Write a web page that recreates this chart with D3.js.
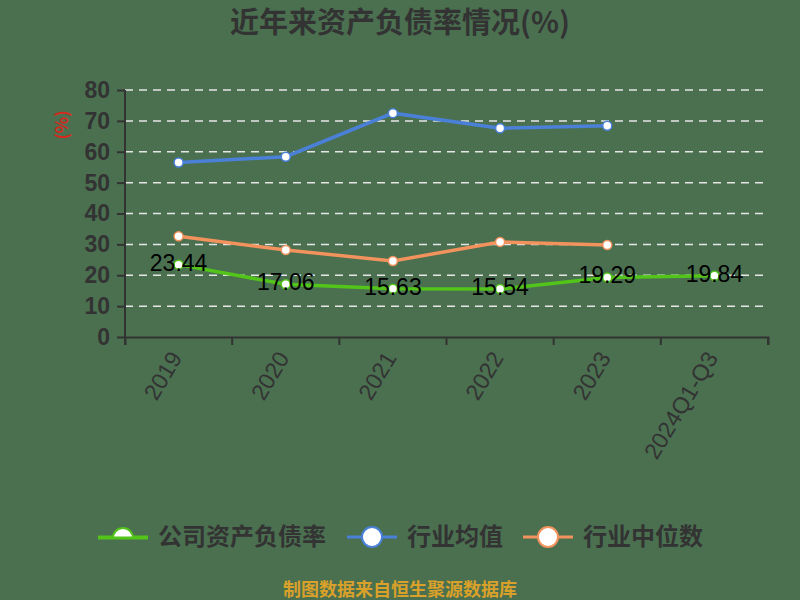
<!DOCTYPE html>
<html>
<head>
<meta charset="utf-8">
<script src="https://cdn.jsdelivr.net/npm/d3@7"></script>
<style>
  body { margin: 0; background: #4a7050; }
  text { font-family: "Noto Sans CJK SC", "Noto Sans", sans-serif; }
</style>
</head>
<body>
<script>
// chart data
const years = ["2019", "2020", "2021", "2022", "2023", "2024Q1-Q3"];
const companyRate = [23.44, 17.06, 15.63, 15.54, 19.29, 19.84];
const industryAvg = [56.5, 58.4, 72.5, 67.6, 68.4];
const industryMedian = [32.6, 28.2, 24.6, 30.8, 29.8];
const yTicks = [0, 10, 20, 30, 40, 50, 60, 70, 80];
const seriesNames = ["公司资产负债率", "行业均值", "行业中位数"];

const width = 800, height = 600;
const margin = ({top: 90, right: 32, bottom: 263, left: 125});

const svg = d3.select("body").append("svg")
  .attr("width", width)
  .attr("height", height);

svg.append("rect").attr("width", width).attr("height", height).attr("fill", "#4a7050");

// title
svg.append("text")
  .attr("x", 400).attr("y", 33)
  .attr("text-anchor", "middle")
  .attr("font-size", 29).attr("font-weight", "bold")
  .attr("fill", "#333")
  .text("近年来资产负债率情况(%)");

var x = d3.scaleBand()
  .domain(years)
  .range([margin.left, width - margin.right]);

var y = d3.scaleLinear()
  .domain([0, 80])
  .range([height - margin.bottom, margin.top]);

// grid
svg.append("g")
  .selectAll("line")
  .data(yTicks.slice(1))
  .join("line")
  .attr("x1", margin.left)
  .attr("x2", width - margin.right)
  .attr("y1", d => y(d))
  .attr("y2", d => y(d))
  .attr("stroke", "#e6e6e6")
  .attr("stroke-width", 1.5)
  .attr("stroke-dasharray", "8,6");

// y axis
const yAxis = svg.append("g")
  .attr("transform", "translate(" + margin.left + ",0)")
  .call(d3.axisLeft(y).tickValues(yTicks).tickSize(8).tickPadding(7));
yAxis.selectAll("line, path").attr("stroke", "#333").attr("stroke-width", 2);
yAxis.selectAll("text")
  .attr("font-size", 23).attr("fill", "#333")
  .attr("font-weight", "bold")
  .style("font-family", "'Liberation Sans', Arial, sans-serif");
yAxis.select(".domain").attr("d", "M0," + y(0) + "V" + y(80));

svg.append("text")
  .attr("transform", "translate(68,125) rotate(-90)")
  .attr("text-anchor", "middle")
  .attr("font-size", 17)
  .attr("font-weight", "bold")
  .attr("fill", "#d42a1e")
  .text("(%)");

// x axis
const xAxis = svg.append("g")
  .attr("transform", "translate(0," + y(0) + ")")
  .call(d3.axisBottom(x).tickSize(8).tickSizeOuter(8));
xAxis.selectAll("line, path").attr("stroke", "#333").attr("stroke-width", 2);
// move ticks to band edges
xAxis.selectAll(".tick line").attr("transform", "translate(" + (-x.bandwidth() / 2) + ",0)");
xAxis.append("line")
  .attr("x1", width - margin.right).attr("x2", width - margin.right)
  .attr("y1", 0).attr("y2", 8)
  .attr("stroke", "#333").attr("stroke-width", 2);
xAxis.selectAll(".tick text")
  .attr("font-size", 23).attr("fill", "#333")
  .style("font-family", "'Liberation Sans', Arial, sans-serif")
  .attr("text-anchor", "end")
  .attr("dy", "0.35em")
  .attr("transform", "translate(-12,11) rotate(-59)");

const cx = (d, i) => x(years[i]) + x.bandwidth() / 2;

const series = [
  {name: seriesNames[0], values: companyRate, color: "#52c41a"},
  {name: seriesNames[1], values: industryAvg, color: "#4a80d8"},
  {name: seriesNames[2], values: industryMedian, color: "#f2925c"}
];

const line = d3.line().x(cx).y(d => y(d));

// draw avg/median first then company on top
[series[1], series[2], series[0]].forEach(function(s) {
  svg.append("path")
    .datum(s.values)
    .attr("fill", "none")
    .attr("stroke", s.color)
    .attr("stroke-width", 3.5)
    .attr("d", line);
  svg.append("g")
    .selectAll("circle")
    .data(s.values)
    .join("circle")
    .attr("cx", cx)
    .attr("cy", d => y(d))
    .attr("r", 4.5)
    .attr("fill", "#fff")
    .attr("stroke", s.color)
    .attr("stroke-width", 1.5);
});

// value labels
svg.append("g")
  .selectAll("text")
  .data(companyRate)
  .join("text")
  .attr("x", cx)
  .attr("y", d => y(d) - 2)
  .attr("text-anchor", "middle")
  .attr("dy", "0.35em")
  .attr("font-size", 23)
  .attr("fill", "#000")
  .style("font-family", "'Liberation Sans', Arial, sans-serif")
  .text(d => d.toFixed(2));

// legend
const legendX = [98, 347, 523];
const legendY = 537;

series.forEach(function(s, i) {
  const g = svg.append("g").attr("transform", "translate(" + legendX[i] + "," + legendY + ")");
  g.append("line")
    .attr("x1", 0).attr("x2", 50)
    .attr("stroke", s.color).attr("stroke-width", 3);
  const c = g.append("circle")
    .attr("cx", 25).attr("cy", 0).attr("r", 10)
    .attr("fill", "#fff")
    .attr("stroke", s.color).attr("stroke-width", 2);
  if (i === 0) {
    // first marker is cut off at its line
    c.attr("cy", 1);
    g.append("rect").attr("x", 12).attr("y", 2).attr("width", 26).attr("height", 12).attr("fill", "#4a7050");
    g.append("line").attr("x1", 0).attr("x2", 50).attr("y1", 1).attr("y2", 1)
      .attr("stroke", s.color).attr("stroke-width", 3);
  }
  g.append("text")
    .attr("x", 60).attr("y", 0)
    .attr("dy", "0.35em")
    .attr("font-size", 24)
    .attr("font-weight", "bold")
    .attr("fill", "#333")
    .text(s.name);
});

// source
svg.append("text")
  .attr("x", 400).attr("y", 596)
  .attr("text-anchor", "middle")
  .attr("font-size", 18)
  .attr("font-weight", "bold")
  .attr("fill", "#d9a12a")
  .text("制图数据来自恒生聚源数据库");
</script>
</body>
</html>
